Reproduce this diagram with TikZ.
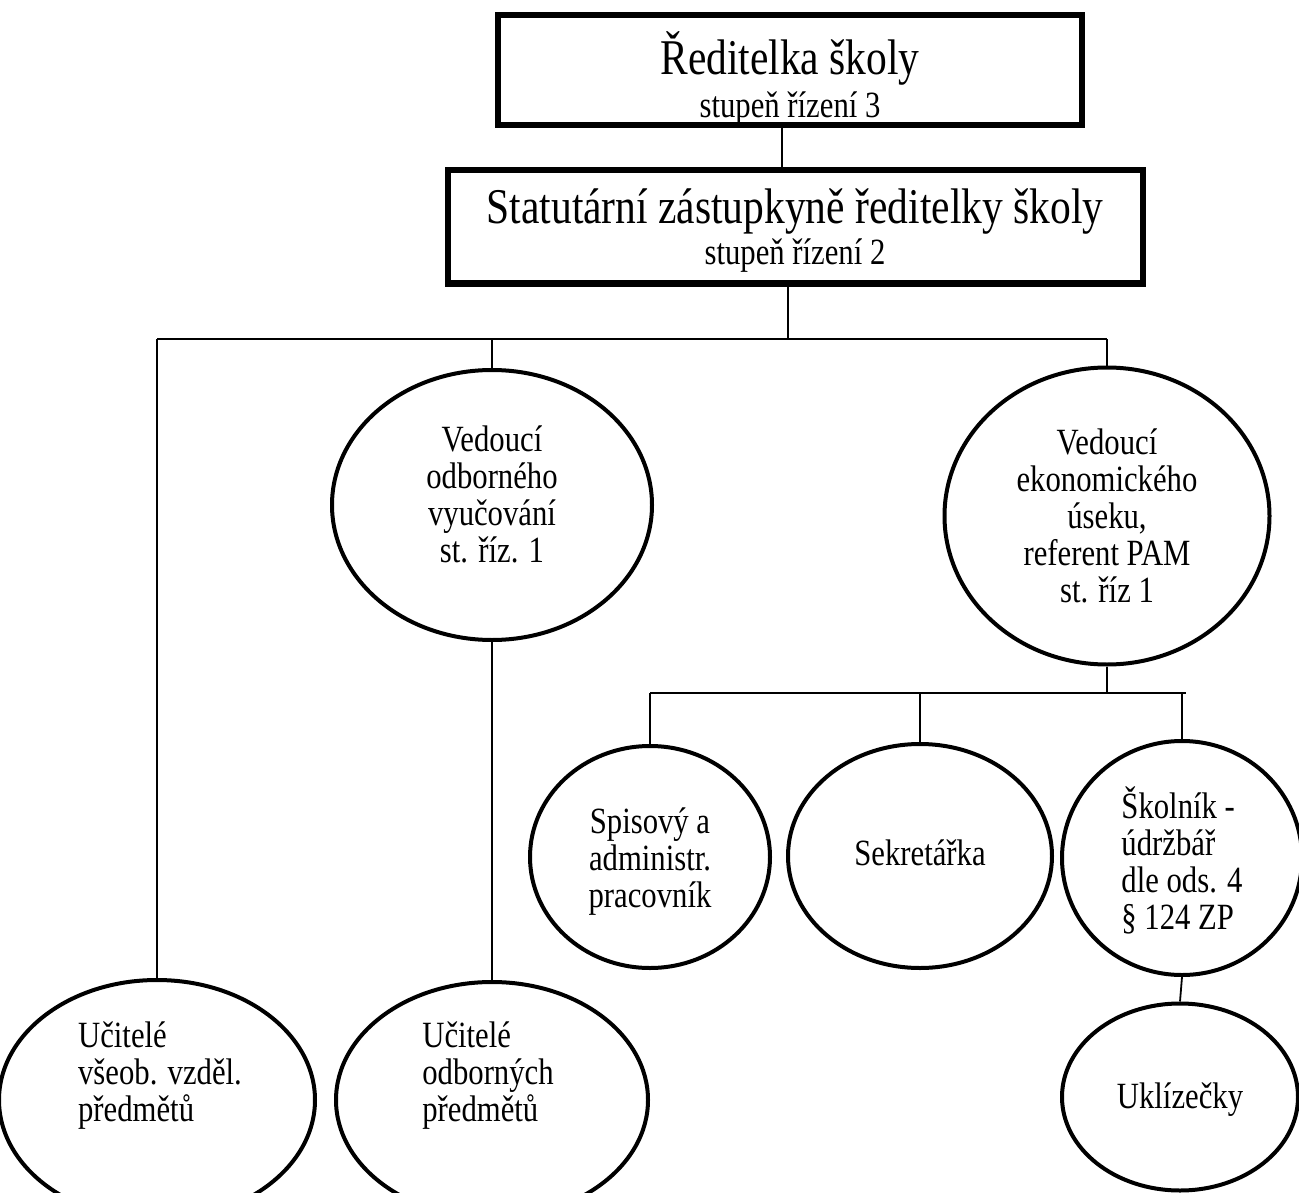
\documentclass[tikz,border=0pt]{standalone}
\usepackage{fontspec}
\setmainfont{Liberation Serif}[FakeStretch=0.83]
\usetikzlibrary{shapes.geometric, positioning}

\newcommand{\headfont}{\fontsize{50}{56}\selectfont}
\newcommand{\levelfont}{\fontsize{37}{37}\selectfont\lineskiplimit=-100pt}
\newcommand{\rolefont}{\fontsize{37}{37}\selectfont\lineskiplimit=-100pt}

\tikzset{
  headbox/.style={draw, line width=6pt, align=center, inner sep=0pt, font=\levelfont},
  role/.style={ellipse, draw, line width=4pt, inner sep=0pt},
  roletext/.style={align=center, inner sep=0pt, font=\rolefont},
  link/.style={line width=1.8pt},
}

\begin{document}
\begin{tikzpicture}[x=1pt, y=-1pt]
\useasboundingbox (0,0) rectangle (1299,1193);

% vedeni skoly
\node[headbox, minimum width=584pt, minimum height=110pt] (dir) at (790,70) {};
\node[roletext, font=\levelfont] (dirt) at (790,78)
  {{\headfont Ředitelka školy}\\[6pt] stupeň řízení 3};
\node[headbox, minimum width=695pt, minimum height=113pt] (dep) at (795,227) {};
\node[roletext, font=\levelfont] (dept) at (795,231)
  {{\headfont Statutární zástupkyně ředitelky školy}\\[4pt] stupeň řízení 2};

% stupen rizeni 1
\node[role, minimum width=320pt, minimum height=270pt] (vyuc) at (492,505) {};
\node[roletext] (vyuct) at (492,494) {Vedoucí\\ odborného\\ vyučování\\ st. říz. 1};
\node[role, minimum width=325pt, minimum height=297pt] (ekon) at (1107,516) {};
\node[roletext] (ekont) at (1107,516) {Vedoucí\\ ekonomického\\ úseku,\\ referent PAM\\ st. říz 1};

% ucitele
\node[role, minimum width=316pt, minimum height=240pt] (uc1) at (157,1100) {};
\node[roletext, align=left] (uc1t) at (160,1076) {Učitelé\\ všeob. vzděl.\\ předmětů};
\node[role, minimum width=312pt, minimum height=236pt] (uc2) at (492,1100) {};
\node[roletext, align=left] (uc2t) at (488,1076) {Učitelé\\ odborných\\ předmětů};

% ekonomicky usek
\node[role, minimum width=240pt, minimum height=222pt] (spis) at (650,857) {};
\node[roletext] (spist) at (650,862) {Spisový a\\ administr.\\ pracovník};
\node[role, minimum width=264pt, minimum height=224pt] (sekr) at (920,856) {};
\node[roletext] (sekrt) at (920,853) {Sekretářka};
\node[role, minimum width=240pt, minimum height=234pt] (skol) at (1182,858) {};
\node[roletext, align=left] (skolt) at (1182,860) {Školník -\\ údržbář\\ dle ods. 4\\ § 124 ZP};
\node[role, minimum width=236pt, minimum height=187pt] (ukl) at (1180,1097) {};
\node[roletext] (uklt) at (1180,1100) {Uklízečky};

% spojnice
\coordinate (busL) at (157,339);
\coordinate (busR) at (1107,339);
\coordinate (bus2L) at (650,693);
\coordinate (bus2R) at (1186,693);

\draw[link] ([xshift=-8pt]dir.south) -- ([xshift=-8pt]dir.south |- dep.north);
\draw[link] ([xshift=-7pt]dep.south) -- ([xshift=-7pt]dep.south |- busL);
\draw[link] (busL) -- (busR);
\draw[link] (busL) -- (uc1.north);
\draw[link] (vyuc.north |- busL) -- (vyuc.north);
\draw[link] (busR) -- (ekon.north);
\draw[link] (vyuc.south) -- (uc2.north);
\draw[link] (ekon.south) -- (ekon.south |- bus2L);
\draw[link] (bus2L) -- (bus2R);
\draw[link] (spis.north |- bus2L) -- (spis.north);
\draw[link] (sekr.north |- bus2L) -- (sekr.north);
\draw[link] (skol.north |- bus2L) -- (skol.north);
\draw[link] (skol.south) -- (ukl.north);
\end{tikzpicture}
\end{document}
